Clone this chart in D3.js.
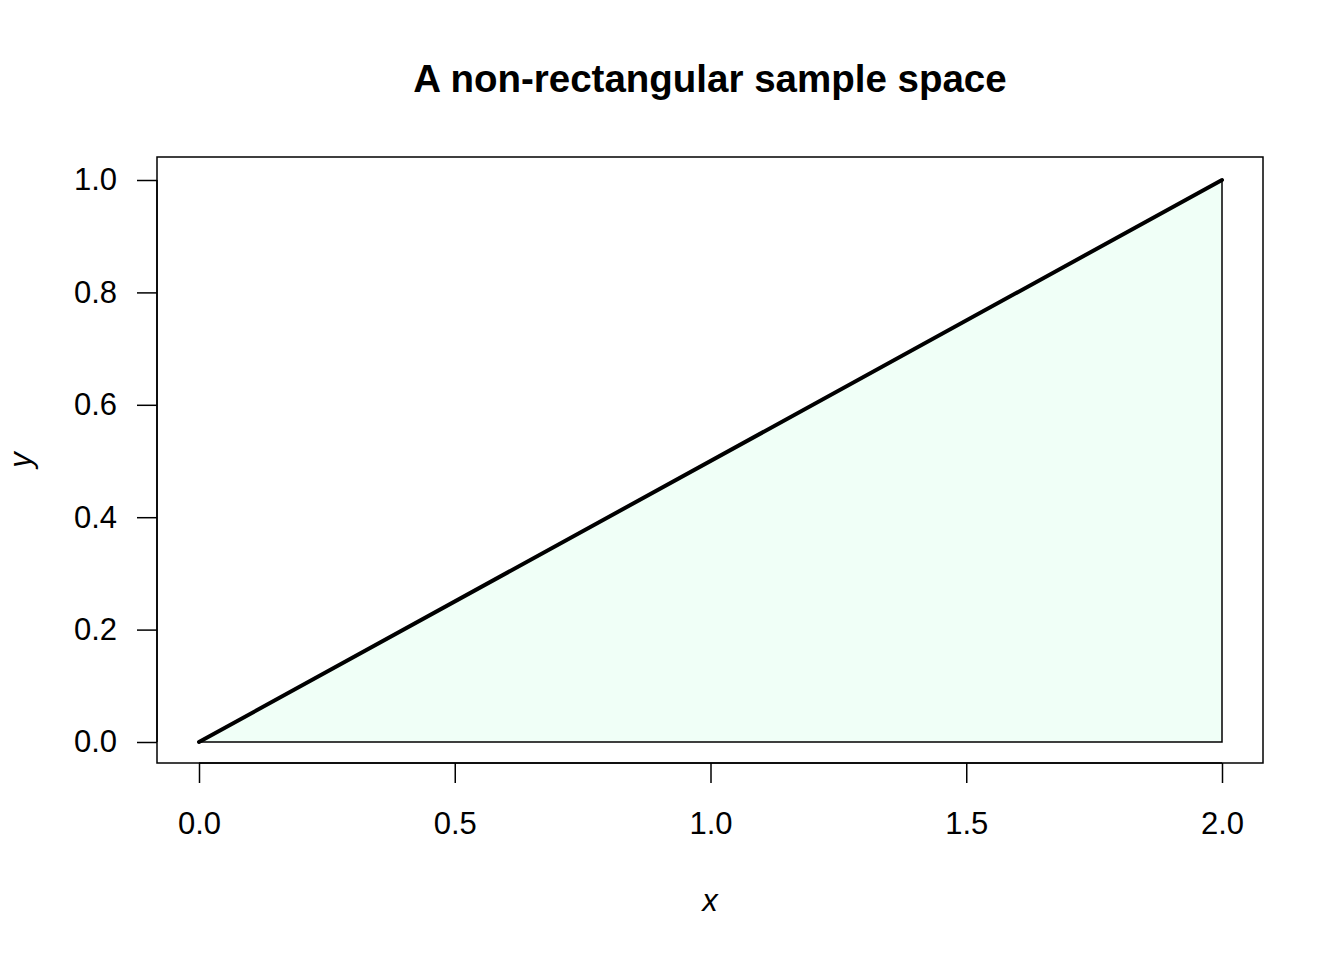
<!DOCTYPE html>
<html><head><meta charset="utf-8">
<script src="https://cdn.jsdelivr.net/npm/d3@7"></script>
<style>body{margin:0;background:#fff}svg{display:block}text{font-family:"Liberation Sans",Arial,Helvetica,sans-serif;fill:#000}</style>
</head><body><svg id="c" width="1344" height="960"></svg>
<script>
const polyX = [0, 2, 2];
const polyY = [0, 1, 0];
const xTicks = [0, 0.5, 1, 1.5, 2];
const yTicks = [0, 0.2, 0.4, 0.6, 0.8, 1];
const title = "A non-rectangular sample space";

const svg = d3.select("#c");
const x = d3.scaleLinear().domain([0, 2]).range([199, 1222]);
const y = d3.scaleLinear().domain([0, 1]).range([742, 180]);
const box = {l:157, r:1263, t:157, b:763};

const pts = polyX.map((d,i)=>[x(d), y(polyY[i])]);
svg.append("polygon").attr("points", pts.map(p=>p.join(",")).join(" "))
  .attr("fill", "#f0fff7").attr("stroke", "#000").attr("stroke-width", 1.5);
svg.append("line").attr("x1", pts[0][0]).attr("y1", pts[0][1]).attr("x2", pts[1][0]).attr("y2", pts[1][1])
  .attr("stroke", "#000").attr("stroke-width", 4).attr("stroke-linecap","round");

svg.append("rect").attr("x", box.l).attr("y", box.t).attr("width", box.r-box.l).attr("height", box.b-box.t)
  .attr("fill","none").attr("stroke","#000").attr("stroke-width",1.5);

const xa = svg.append("g").attr("transform", `translate(0,${box.b})`)
  .call(d3.axisBottom(x).tickValues(xTicks).tickFormat(d3.format(".1f")).tickSizeOuter(0).tickSizeInner(20).tickPadding(29));
xa.select(".domain").attr("d", `M${x(0)},0H${x(2)}`).attr("stroke-width",1.5);
xa.selectAll(".tick line").attr("stroke-width",1.5);
xa.selectAll("text").attr("font-size", 31).attr("font-family",null);

const ya = svg.append("g").attr("transform", `translate(${box.l},0)`)
  .call(d3.axisLeft(y).tickValues(yTicks).tickFormat(d3.format(".1f")).tickSizeOuter(0).tickSizeInner(20).tickPadding(20));
ya.select(".domain").attr("d", `M0,${y(0)}V${y(1)}`).attr("stroke-width",1.5);
ya.selectAll(".tick line").attr("stroke-width",1.5);
ya.selectAll("text").attr("font-size", 31).attr("font-family",null);

svg.append("text").attr("x", 710).attr("y", 92).attr("text-anchor","middle")
  .attr("font-size", 38.5).attr("font-weight","bold").text(title);
svg.append("text").attr("x", 710).attr("y", 911).attr("text-anchor","middle")
  .attr("font-size", 31).attr("font-style","italic").text("x");
svg.append("text").attr("transform","translate(31,460) rotate(-90)").attr("text-anchor","middle")
  .attr("font-size", 31).attr("font-style","italic").text("y");
</script></body></html>
